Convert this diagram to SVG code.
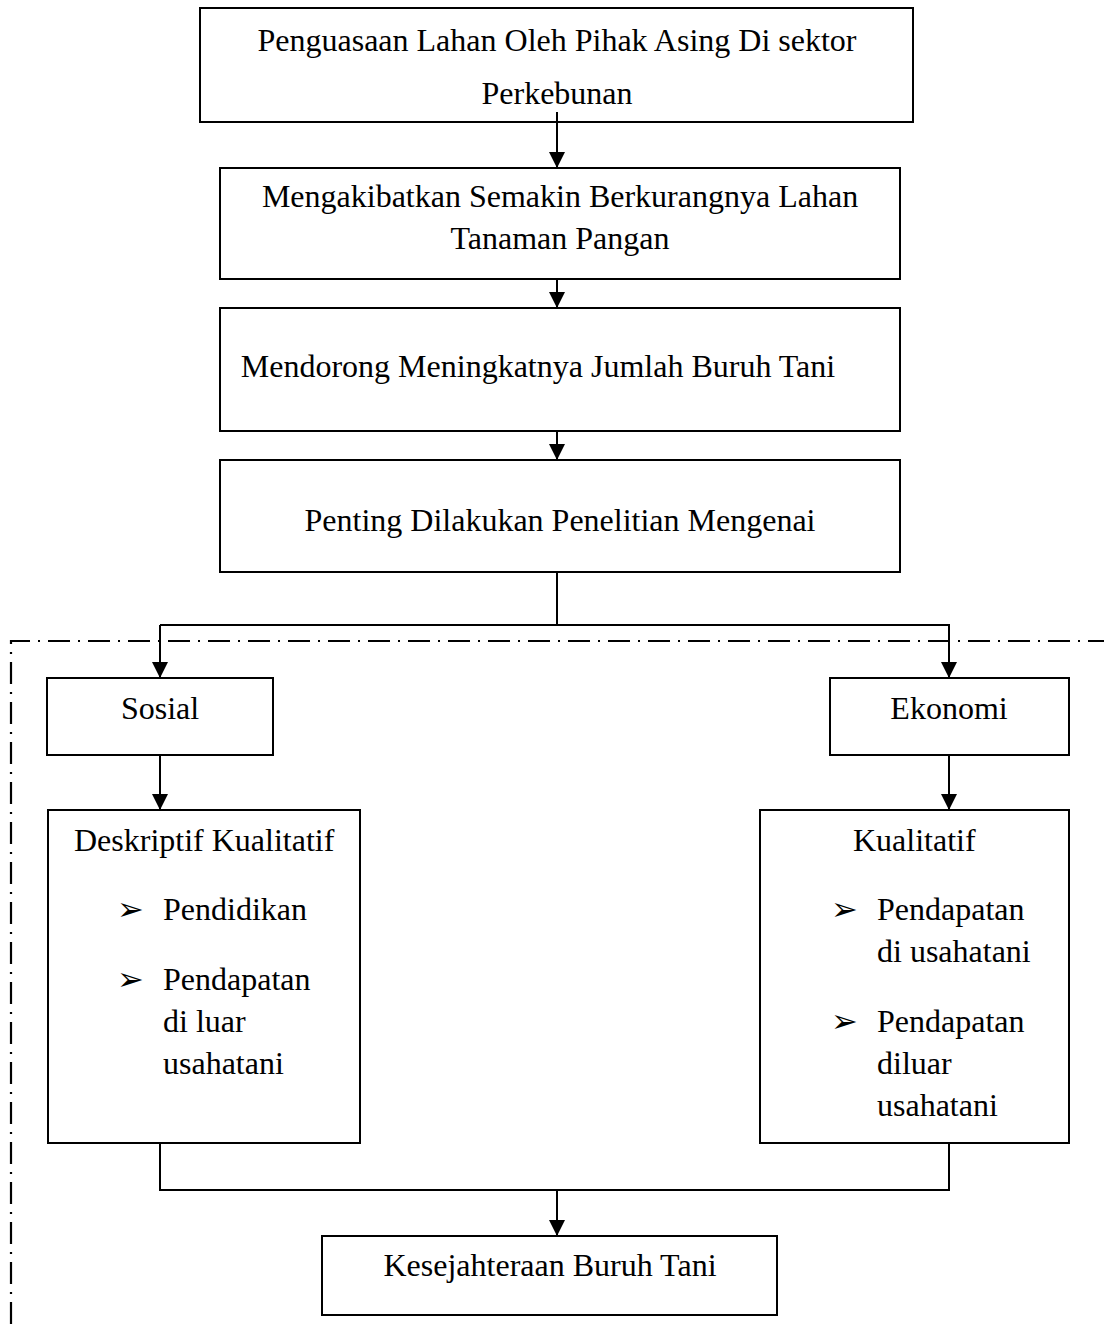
<svg xmlns="http://www.w3.org/2000/svg" width="1104" height="1324" viewBox="0 0 1104 1324">
<style>
.box{fill:#fff;stroke:#000;stroke-width:2}
.t{font-family:"Liberation Serif","Times New Roman",serif;font-size:32px;fill:#000}
.c{text-anchor:middle}
.ln{fill:none;stroke:#000;stroke-width:2}
.dd{fill:none;stroke:#000;stroke-width:2.2;stroke-dasharray:22 8 2 8}
</style>
<defs>
<marker id="ah" viewBox="0 0 16 16" refX="16" refY="8" markerWidth="16" markerHeight="16" markerUnits="userSpaceOnUse" orient="auto">
<path d="M0,0 L16,8 L0,16 Z" fill="#000"/>
</marker>
</defs>
<rect width="1104" height="1324" fill="#fff"/>
<g id="boundary">
<path class="dd" d="M11,1324 V641 H1104"/>
</g>
<g id="n1"><rect class="box" x="200" y="8" width="713" height="114"/>
<text class="t c" x="557" y="51">Penguasaan Lahan Oleh Pihak Asing Di sektor</text>
<text class="t c" x="557" y="104">Perkebunan</text></g>
<g id="n2"><rect class="box" x="220" y="168" width="680" height="111"/>
<text class="t c" x="560" y="207">Mengakibatkan Semakin Berkurangnya Lahan</text>
<text class="t c" x="560" y="249">Tanaman Pangan</text></g>
<g id="n3"><rect class="box" x="220" y="308" width="680" height="123"/>
<text class="t c" x="538" y="377">Mendorong Meningkatnya Jumlah Buruh Tani</text></g>
<g id="n4"><rect class="box" x="220" y="460" width="680" height="112"/>
<text class="t c" x="560" y="531">Penting Dilakukan Penelitian Mengenai</text></g>
<g id="n5"><rect class="box" x="47" y="678" width="226" height="77"/>
<text class="t c" x="160" y="719">Sosial</text></g>
<g id="n6"><rect class="box" x="830" y="678" width="239" height="77"/>
<text class="t c" x="949" y="719">Ekonomi</text></g>
<g id="n7"><rect class="box" x="48" y="810" width="312" height="333"/>
<text class="t" x="74" y="851">Deskriptif Kualitatif</text>
<text class="t" x="117" y="920">➢</text>
<text class="t" x="163" y="920">Pendidikan</text>
<text class="t" x="117" y="990">➢</text>
<text class="t" x="163" y="990">Pendapatan</text>
<text class="t" x="163" y="1032">di luar</text>
<text class="t" x="163" y="1074">usahatani</text></g>
<g id="n8"><rect class="box" x="760" y="810" width="309" height="333"/>
<text class="t" x="853" y="851">Kualitatif</text>
<text class="t" x="831" y="920">➢</text>
<text class="t" x="877" y="920">Pendapatan</text>
<text class="t" x="877" y="962">di usahatani</text>
<text class="t" x="831" y="1032">➢</text>
<text class="t" x="877" y="1032">Pendapatan</text>
<text class="t" x="877" y="1074">diluar</text>
<text class="t" x="877" y="1116">usahatani</text></g>
<g id="n9"><rect class="box" x="322" y="1236" width="455" height="79"/>
<text class="t c" x="550" y="1276">Kesejahteraan Buruh Tani</text></g>
<g id="connectors">
<path class="ln" d="M557,112 V168" marker-end="url(#ah)"/>
<path class="ln" d="M557,279 V308" marker-end="url(#ah)"/>
<path class="ln" d="M557,431 V460" marker-end="url(#ah)"/>
<path class="ln" d="M557,572 V625"/>
<path class="ln" d="M160,625 H949 V678" marker-end="url(#ah)"/>
<path class="ln" d="M160,625 V678" marker-end="url(#ah)"/>
<path class="ln" d="M160,755 V810" marker-end="url(#ah)"/>
<path class="ln" d="M949,755 V810" marker-end="url(#ah)"/>
<path class="ln" d="M160,1143 V1190 H949 V1143"/>
<path class="ln" d="M557,1190 V1236" marker-end="url(#ah)"/>
</g>
</svg>
